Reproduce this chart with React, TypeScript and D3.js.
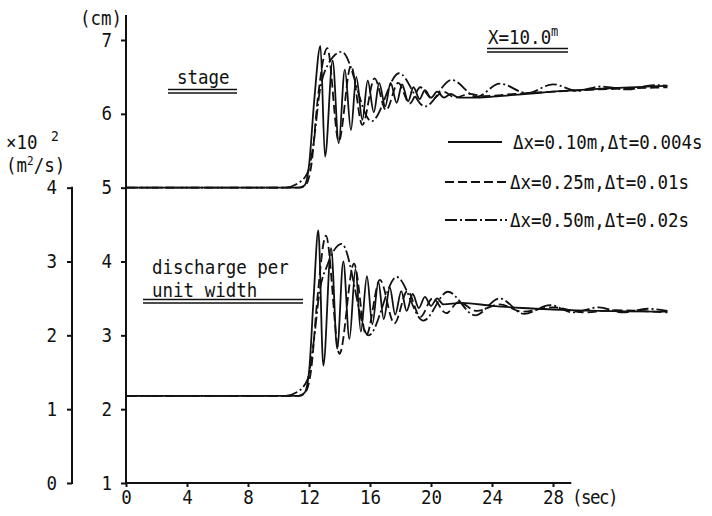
import React, { useRef, useEffect } from 'react';
import * as d3 from 'd3';

type Pt = [number, number];

const T_TICKS = [0, 4, 8, 12, 16, 20, 24, 28];
const STAGE_TICKS = [1, 2, 3, 4, 5, 6, 7];
const Q_TICKS = [0, 1, 2, 3, 4];

// stage (cm), time in sec
const stageFine: Pt[] = [
  [0, 5.0], [11.3, 5.0], [11.7, 5.03], [12.0, 5.3], [12.35, 6.2], [12.75, 6.92], [13.05, 5.42],
  [13.55, 6.72], [13.95, 5.6], [14.35, 6.6], [14.75, 5.78], [15.1, 6.5], [15.5, 5.92], [15.85, 6.45],
  [16.25, 6.02], [16.6, 6.42], [17.0, 6.1], [17.35, 6.42], [17.75, 6.15], [18.1, 6.4], [18.5, 6.17],
  [18.85, 6.36], [19.25, 6.2], [19.6, 6.32], [20.0, 6.22], [20.4, 6.3], [20.85, 6.22], [21.3, 6.27],
  [21.8, 6.22], [23, 6.22], [24.5, 6.24], [26.3, 6.27], [28, 6.3], [29.6, 6.32], [32, 6.35], [35.5, 6.38],
];
const stageMid: Pt[] = [
  [0, 5.0], [11.4, 5.0], [11.8, 5.04], [12.15, 5.3], [12.6, 6.25], [13.2, 6.89], [13.95, 5.63],
  [14.75, 6.65], [15.5, 5.85], [16.3, 6.48], [17.05, 6.05], [17.85, 6.42], [18.6, 6.14], [19.3, 6.36],
  [20.1, 6.2], [20.8, 6.3], [21.6, 6.22], [22.5, 6.27], [23.5, 6.24], [25.5, 6.27], [28, 6.3],
  [31, 6.33], [35.5, 6.36],
];
const stageCoarse: Pt[] = [
  [0, 5.0], [10.4, 5.0], [11.2, 5.05], [11.9, 5.2], [12.3, 5.6], [12.7, 6.3], [13.2, 6.65], [14.14, 6.84],
  [16.1, 5.9], [17.9, 6.55], [19.6, 6.1], [21.35, 6.46], [23.0, 6.23], [24.5, 6.41], [26.3, 6.28],
  [28.0, 6.4], [29.6, 6.31], [31.1, 6.37], [32.9, 6.33], [34.6, 6.39], [35.5, 6.38],
];

// discharge per unit width (x10^-2 m2/s)
const qFine: Pt[] = [
  [0, 1.18], [11.3, 1.18], [11.7, 1.22], [12.0, 1.5], [12.3, 2.5], [12.61, 3.42], [12.94, 1.59],
  [13.45, 3.18], [13.85, 1.82], [14.25, 3.0], [14.65, 1.95], [15.05, 2.9], [15.4, 2.05], [15.8, 2.8],
  [16.15, 2.15], [16.55, 2.72], [16.9, 2.22], [17.3, 2.65], [17.65, 2.28], [18.05, 2.6], [18.4, 2.33],
  [18.8, 2.56], [19.2, 2.37], [19.6, 2.52], [20.0, 2.4], [20.4, 2.5], [20.8, 2.42], [22, 2.44],
  [24, 2.4], [26, 2.37], [28, 2.35], [31, 2.33], [35.5, 2.32],
];
const qMid: Pt[] = [
  [0, 1.18], [11.4, 1.18], [11.8, 1.24], [12.15, 1.55], [12.55, 2.5], [13.11, 3.35], [14.0, 1.75],
  [14.95, 2.97], [15.75, 2.0], [16.65, 2.75], [17.6, 2.16], [18.45, 2.6], [19.3, 2.25], [20.1, 2.5],
  [21.0, 2.3], [21.8, 2.45], [23.0, 2.33], [24.5, 2.42], [26.0, 2.32], [28.0, 2.38], [30.0, 2.31],
  [32.0, 2.34], [35.5, 2.31],
];
const qCoarse: Pt[] = [
  [0, 1.18], [10.4, 1.18], [11.2, 1.23], [11.9, 1.4], [12.3, 1.9], [12.7, 2.6], [13.2, 2.95], [14.14, 3.24],
  [15.9, 2.0], [17.75, 2.79], [19.5, 2.2], [21.1, 2.59], [22.9, 2.27], [24.5, 2.5], [26.1, 2.29],
  [27.8, 2.41], [29.3, 2.31], [31.0, 2.38], [32.6, 2.31], [34.2, 2.36], [35.5, 2.33],
];

const LEGEND = ['Δx=0.10m,Δt=0.004s', 'Δx=0.25m,Δt=0.01s', 'Δx=0.50m,Δt=0.02s'];
const DASHES = ['none', '9,4', '12,3,2,3'];

const W = 712;
const H = 516;
const FONT = '"DejaVu Sans Mono", monospace';
const FS = 17.5;
const SY = 1.15;
const INK = '#111';

export default function App() {
  const svgRef = useRef<SVGSVGElement>(null);

  useEffect(() => {
    const svg = d3.select(svgRef.current);
    svg.selectAll('*').remove();

    const x = d3.scaleLinear().domain([0, 28]).range([126, 553]);
    const yS = d3.scaleLinear().domain([1, 7]).range([483, 40]);
    const yQ = d3.scaleLinear().domain([0, 4]).range([483, yS(5)]);

    const label = (tx: number, ty: number, s: string, anchor = 'start', size = FS) =>
      svg.append('text')
        .attr('transform', `translate(${tx},${ty}) scale(1,${SY})`)
        .attr('text-anchor', anchor)
        .attr('dy', '0.36em')
        .style('font-family', FONT)
        .style('font-size', `${size}px`)
        .attr('fill', INK)
        .text(s);

    const styleAxis = (g: any) => {
      g.select('.domain').remove();
      g.selectAll('line').attr('stroke', INK).attr('stroke-width', 2);
      g.selectAll('text')
        .style('font-family', FONT)
        .style('font-size', `${FS}px`)
        .attr('fill', INK);
    };

    // main (stage) axis
    const gS = svg.append('g').attr('transform', `translate(${x(0)},0)`)
      .call(d3.axisLeft(yS).tickValues(STAGE_TICKS).tickSize(5).tickPadding(9).tickFormat(d3.format('d')));
    styleAxis(gS);
    gS.selectAll('text').attr('transform', `scale(1,${SY})`).attr('dy', '0.3em');
    svg.append('line').attr('x1', x(0)).attr('x2', x(0)).attr('y1', 15).attr('y2', yS(1))
      .attr('stroke', INK).attr('stroke-width', 2);

    // discharge axis
    const gQ = svg.append('g').attr('transform', 'translate(72,0)')
      .call(d3.axisLeft(yQ).tickValues(Q_TICKS).tickSize(5).tickPadding(10).tickFormat(d3.format('d')));
    styleAxis(gQ);
    gQ.selectAll('text').attr('transform', `scale(1,${SY})`).attr('dy', '0.3em');
    svg.append('line').attr('x1', 72).attr('x2', 72).attr('y1', yQ(4) - 1).attr('y2', yQ(0) + 1)
      .attr('stroke', INK).attr('stroke-width', 2);

    // time axis
    const gT = svg.append('g').attr('transform', `translate(0,${yS(1)})`)
      .call(d3.axisBottom(x).tickValues(T_TICKS).tickSize(4).tickFormat(d3.format('d')));
    styleAxis(gT);
    gT.selectAll('text').attr('transform', `scale(1,${SY})`).attr('y', 21 / SY).attr('dy', 0);
    svg.append('line').attr('x1', x(0)).attr('x2', x(29.2)).attr('y1', yS(1)).attr('y2', yS(1))
      .attr('stroke', INK).attr('stroke-width', 2);

    // curves
    const lineS = d3.line<Pt>().x(d => x(d[0])).y(d => yS(d[1])).curve(d3.curveMonotoneX);
    const lineQ = d3.line<Pt>().x(d => x(d[0])).y(d => yQ(d[1])).curve(d3.curveMonotoneX);
    const series: [Pt[], Pt[]][] = [[stageFine, qFine], [stageMid, qMid], [stageCoarse, qCoarse]];
    series.forEach(([s, q], i) => {
      svg.append('path').attr('d', lineS(s)).attr('fill', 'none').attr('stroke', INK)
        .attr('stroke-width', 1.8).attr('stroke-dasharray', DASHES[i]);
      svg.append('path').attr('d', lineQ(q)).attr('fill', 'none').attr('stroke', INK)
        .attr('stroke-width', 1.8).attr('stroke-dasharray', DASHES[i]);
    });

    // legend
    const rows = [142, 182, 220];
    LEGEND.forEach((t, i) => {
      svg.append('line')
        .attr('x1', i === 0 ? 448 : 445).attr('x2', i === 0 ? 502 : 507)
        .attr('y1', rows[i]).attr('y2', rows[i])
        .attr('stroke', INK).attr('stroke-width', 1.8).attr('stroke-dasharray', DASHES[i]);
      label(i === 0 ? 513 : 510, rows[i], t);
    });

    // annotations
    const dbl = (x1: number, x2: number, y: number) => {
      [y, y + 3.5].forEach(yy => svg.append('line').attr('x1', x1).attr('x2', x2)
        .attr('y1', yy).attr('y2', yy).attr('stroke', INK).attr('stroke-width', 1.5));
    };
    label(177, 77, 'stage');
    dbl(168, 237, 89.5);
    label(152, 267, 'discharge per');
    label(152, 290, 'unit width');
    dbl(143, 303, 299.5);
    label(488, 37, 'X=10.0');
    label(551, 31, 'm', 'start', 12);
    dbl(487, 568, 48.5);

    label(80, 18, '(cm)');
    label(6, 142, '×10');
    label(51, 136, '2', 'start', 13);
    const m2 = label(6, 165, '(m');
    m2.append('tspan').attr('font-size', '11px').attr('dy', '-0.55em').text('2');
    m2.append('tspan').attr('dy', '0.35em').text('/s)');
    label(572, 497, '(sec)').attr('letter-spacing', '-1.5px');
  }, []);

  return (
    <svg ref={svgRef} width={W} height={H}
      style={{ position: 'absolute', left: 0, top: 0, background: '#fff' }} />
  );
}
